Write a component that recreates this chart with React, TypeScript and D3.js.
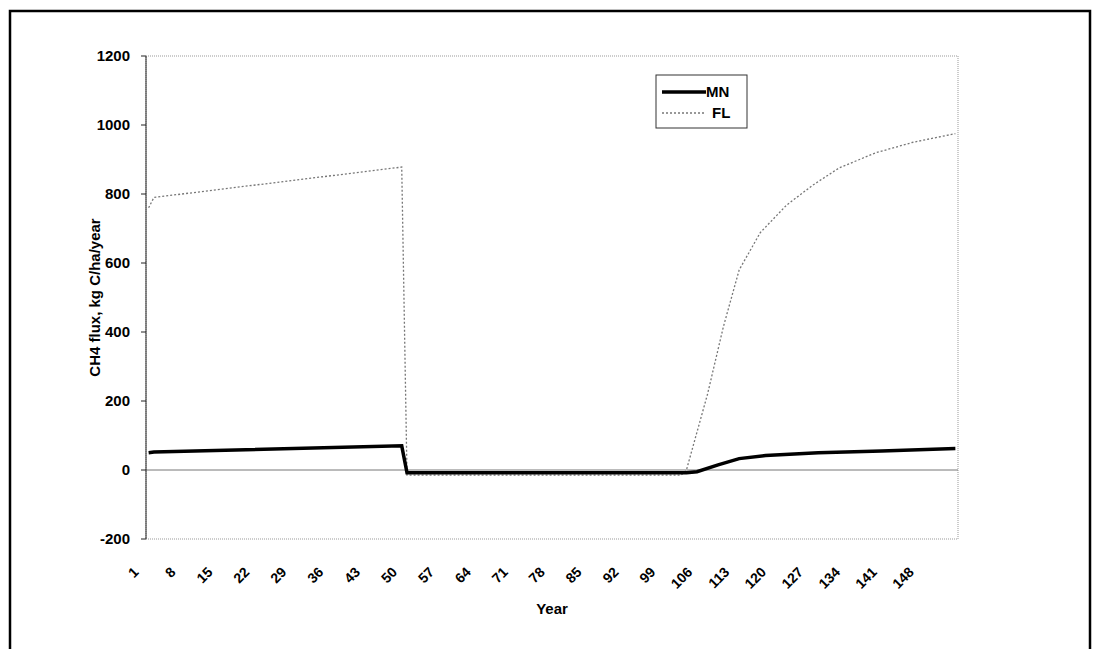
import React from "react";
import * as d3 from "d3";

const years = d3.range(1, 155);
const tickYears = d3.range(1, 155, 7);
const yTicks = [-200, 0, 200, 400, 600, 800, 1000, 1200];

// key points, joined with straight segments
const mnYears = [1, 2, 49, 50, 103, 105, 109, 113, 118, 128, 140, 154];
const mnValues = [50, 52, 70, -8, -8, -5, 15, 33, 42, 50, 55, 62];
const flYears = [1, 2, 49, 50, 102, 103, 107, 110, 113, 117, 122, 127, 132, 139, 146, 154];
const flValues = [760, 790, 878, -15, -15, 0, 220, 415, 580, 688, 768, 826, 876, 920, 950, 975];

const W = 1101;
const H = 649;
const m = { left: 146, top: 56, right: 958, bottom: 539 };

export default function App() {
  const x = d3.scaleBand<number>().domain(years).range([m.left, m.right]);
  const xc = (yr: number) => (x(yr) ?? 0) + x.bandwidth() / 2;
  const y = d3.scaleLinear().domain([-200, 1200]).range([m.bottom, m.top]);

  const line = d3
    .line<[number, number]>()
    .x((d) => xc(d[0]))
    .y((d) => y(d[1]));
  const mn = mnYears.map((yr, i) => [yr, mnValues[i]] as [number, number]);
  const fl = flYears.map((yr, i) => [yr, flValues[i]] as [number, number]);

  const font = "'Liberation Sans', Arial, sans-serif";

  return (
    <svg width={W} height={H} style={{ position: "absolute", left: 0, top: 0 }} fontFamily={font}>
      <rect x={0} y={0} width={W} height={H} fill="#fff" />
      <rect x={10} y={11} width={1080} height={660} fill="none" stroke="#000" strokeWidth={2.5} />
      <rect x={m.left} y={m.top} width={m.right - m.left} height={m.bottom - m.top} fill="none" stroke="#999" strokeDasharray="1,1" />
      <line x1={m.left} x2={m.right} y1={y(0)} y2={y(0)} stroke="#777" strokeWidth={1} />
      <line x1={m.left} x2={m.left} y1={m.top} y2={m.bottom} stroke="#222" />
      {yTicks.map((t) => (
        <g key={t}>
          <line x1={m.left - 5} x2={m.left} y1={y(t)} y2={y(t)} stroke="#222" />
          <text x={m.left - 16} y={y(t)} dy="0.35em" textAnchor="end" fontSize={15} fontWeight="bold">
            {t}
          </text>
        </g>
      ))}
      {tickYears.map((t) => (
        <text
          key={t}
          transform={`translate(${xc(t) - 9},${m.bottom + 34}) rotate(-45)`}
          textAnchor="end"
          fontSize={14}
          fontWeight="bold"
        >
          {t}
        </text>
      ))}
      <text x={(m.left + m.right) / 2} y={614} textAnchor="middle" fontSize={15} fontWeight="bold">
        Year
      </text>
      <text
        transform={`translate(100,${(m.top + m.bottom) / 2}) rotate(-90)`}
        textAnchor="middle"
        fontSize={15}
        fontWeight="bold"
      >
        CH4 flux, kg C/ha/year
      </text>
      <path d={line(fl) ?? ""} fill="none" stroke="#777" strokeWidth={1.3} strokeDasharray="2,2" />
      <path d={line(mn) ?? ""} fill="none" stroke="#000" strokeWidth={3.5} />
      <g transform="translate(656,75)">
        <rect x={0} y={0} width={91} height={53} fill="#fff" stroke="#333" />
        <line x1={6} x2={50} y1={17} y2={17} stroke="#000" strokeWidth={3.5} />
        <text x={50} y={17} dy="0.35em" fontSize={15} fontWeight="bold">MN</text>
        <line x1={6} x2={50} y1={38} y2={38} stroke="#777" strokeWidth={1.3} strokeDasharray="2,2" />
        <text x={56} y={38} dy="0.35em" fontSize={15} fontWeight="bold">FL</text>
      </g>
    </svg>
  );
}
